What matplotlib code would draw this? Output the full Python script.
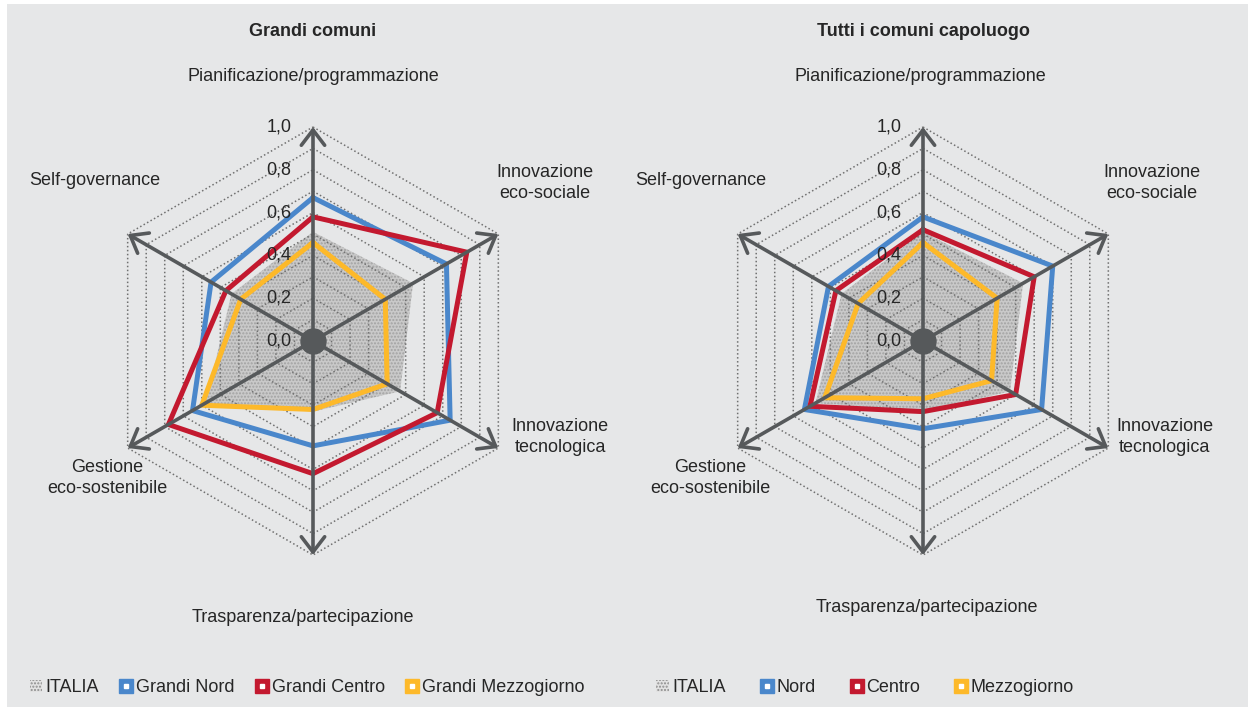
import numpy as np
import matplotlib
matplotlib.use('Agg')
import matplotlib.pyplot as plt
from matplotlib.patches import Patch, Rectangle
from matplotlib.lines import Line2D
from matplotlib.legend_handler import HandlerTuple

plt.rcParams['font.family'] = ['Liberation Sans', 'DejaVu Sans']
plt.rcParams['hatch.linewidth'] = 1.0

# Dimensions, clockwise from the top
categories = ['Pianificazione/programmazione', 'Innovazione\neco-sociale',
              'Innovazione\ntecnologica', 'Trasparenza/partecipazione',
              'Gestione\neco-sostenibile', 'Self-governance']
ticks = [0.0, 0.2, 0.4, 0.6, 0.8, 1.0]
tick_labels = ['0,0', '0,2', '0,4', '0,6', '0,8', '1,0']

italia = [0.51, 0.54, 0.47, 0.33, 0.58, 0.44]

# Grandi comuni
grandi_nord = [0.67, 0.72, 0.74, 0.49, 0.65, 0.55]
grandi_centro = [0.58, 0.83, 0.67, 0.62, 0.78, 0.47]
grandi_mezzogiorno = [0.46, 0.39, 0.40, 0.32, 0.60, 0.39]

# Tutti i comuni capoluogo
tutti_nord = [0.58, 0.70, 0.64, 0.41, 0.64, 0.51]
tutti_centro = [0.52, 0.60, 0.50, 0.33, 0.61, 0.47]
tutti_mezzogiorno = [0.46, 0.40, 0.37, 0.27, 0.53, 0.35]

BLUE = '#4a87cb'
RED = '#c3192f'
YELLOW = '#fdb92a'
AXIS = '#56595b'
TEXT = '#262626'
BG = '#e6e7e8'
FS = 13

angles = np.deg2rad([90, 30, -30, -90, -150, 150])


def to_xy(values):
    r = np.asarray(values, dtype=float)
    x = r * np.cos(angles)
    y = r * np.sin(angles)
    return np.append(x, x[0]), np.append(y, y[0])


def draw_radar(ax, title, series, names, label_pos, legend_x, colspacing):
    ax.set_xlim(-1.45, 1.45)
    ax.set_ylim(-1.66, 1.58)
    ax.set_aspect('equal')
    ax.axis('off')

    # ITALIA area with dotted texture
    x, y = to_xy(italia)
    ax.fill(x, y, facecolor='#c9c9c9', edgecolor='#a2a2a2', hatch='.....',
            linewidth=0, zorder=1)

    # hexagonal dotted rings
    for r in np.arange(1, 11) / 10:
        gx, gy = to_xy([r] * 6)
        ax.plot(gx, gy, color='#707070', lw=1.1, dashes=(1, 1.6), zorder=2)

    for vals, color in zip(series, [BLUE, RED, YELLOW]):
        x, y = to_xy(vals)
        ax.plot(x, y, color=color, lw=3.6, solid_joinstyle='miter', zorder=3)

    # axes with open arrow heads
    for a in angles:
        ax.annotate('', xy=(np.cos(a), np.sin(a)), xytext=(0, 0),
                    arrowprops=dict(arrowstyle='->,head_length=0.55,head_width=0.42',
                                    color=AXIS, lw=2.6, shrinkA=0, shrinkB=0,
                                    mutation_scale=20),
                    zorder=4)
    ax.plot([0], [0], 'o', color=AXIS, ms=18, zorder=5)

    for t, lab in zip(ticks, tick_labels):
        ax.text(-0.1, t, lab, ha='right', va='center', fontsize=FS,
                color=TEXT, zorder=6)

    for lab, (lx, ly) in zip(categories, label_pos):
        ax.text(lx, ly, lab, ha='center', va='center', fontsize=FS,
                color=TEXT, linespacing=1.3, zorder=6)

    ax.text(0, 1.444, title, ha='center', va='center', fontsize=FS,
            fontweight='bold', color=TEXT)

    handles = [Patch(facecolor='#e2e2e2', edgecolor='#8c8c8c', hatch='.....', lw=0)]
    for color in [BLUE, RED, YELLOW]:
        handles.append((Line2D([], [], ls='none', marker='s', ms=10, mfc=color, mec=color),
                        Line2D([], [], ls='none', marker='s', ms=2.5, mfc='white', mec='white')))
    ax.legend(handles, ['ITALIA'] + names, loc='center', ncol=4,
              bbox_to_anchor=(legend_x, -1.621), bbox_transform=ax.transData,
              frameon=False, fontsize=FS, handlelength=0.7, handleheight=0.7,
              handletextpad=0.2, columnspacing=colspacing, numpoints=1,
              handler_map={tuple: HandlerTuple(ndivide=1, pad=0)},
              labelcolor=TEXT)


fig = plt.figure(figsize=(12.52, 7.07), dpi=100, facecolor='white')
fig.add_artist(Rectangle((7 / 1252, 0), 1241 / 1252, 703 / 707,
                         transform=fig.transFigure, facecolor=BG,
                         edgecolor='none', zorder=0))

W, H = 1252, 707
S = 214  # pixels per unit radius


def radar_axes(cx, cy):
    left = cx - 1.45 * S
    bottom = (H - cy) - 1.66 * S
    return fig.add_axes([left / W, bottom / H, 2.9 * S / W, 3.24 * S / H])


ax1 = radar_axes(313, 341)
ax2 = radar_axes(923, 341)
ax1.patch.set_alpha(0)
ax2.patch.set_alpha(0)

draw_radar(ax1, 'Grandi comuni',
           [grandi_nord, grandi_centro, grandi_mezzogiorno],
           ['Grandi Nord', 'Grandi Centro', 'Grandi Mezzogiorno'],
           [(0, 1.234), (1.084, 0.738), (1.154, -0.449), (-0.047, -1.29),
            (-0.963, -0.64), (-1.02, 0.752)],
           -0.028, 1.15)

draw_radar(ax2, 'Tutti i comuni capoluogo',
           [tutti_nord, tutti_centro, tutti_mezzogiorno],
           ['Nord', 'Centro', 'Mezzogiorno'],
           [(-0.014, 1.234), (1.07, 0.738), (1.13, -0.449), (0.019, -1.243),
            (-0.995, -0.64), (-1.04, 0.752)],
           -0.27, 1.9)

fig.savefig('out.png', dpi=100, facecolor=fig.get_facecolor())
